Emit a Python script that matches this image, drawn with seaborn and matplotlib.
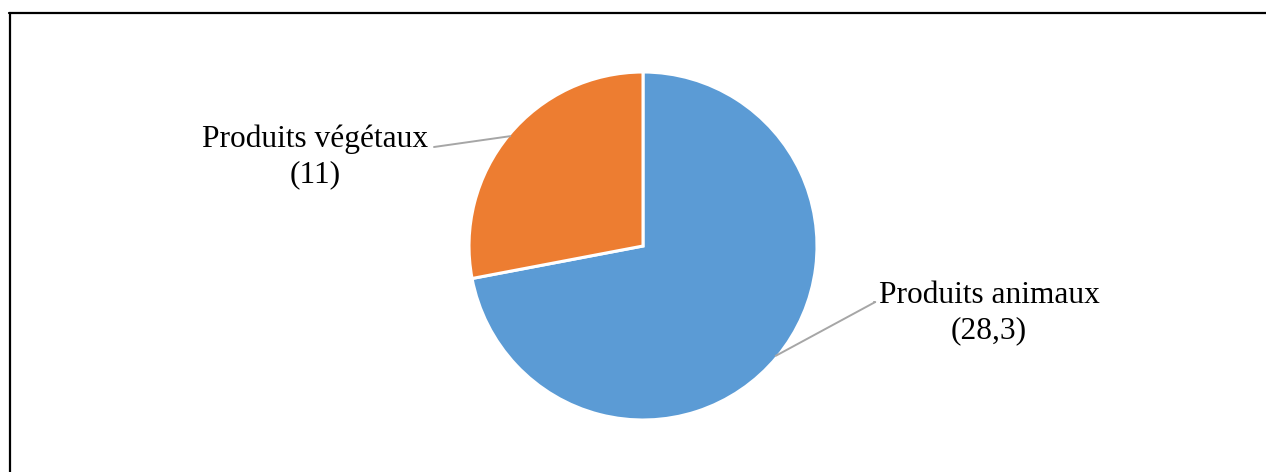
import numpy as np
import matplotlib
matplotlib.use("Agg")
import matplotlib.pyplot as plt
from matplotlib.lines import Line2D
import seaborn as sns

# Data
categories = ["Produits animaux", "Produits végétaux"]
values = [28.3, 11]
value_labels = ["28,3", "11"]

sns.set_style("white")
plt.rcParams["font.family"] = ["Liberation Serif", "DejaVu Serif"]

colors = ["#5B9BD5", "#ED7D31"]

W, H = 1266, 472
fig = plt.figure(figsize=(W / 100, H / 100), dpi=100)

# Pie axes: centre (643, 246) px, radius 174 px
cx, cy, r = 643, 246, 174
ax = fig.add_axes([(cx - r) / W, (H - cy - r) / H, 2 * r / W, 2 * r / H])
wedges, _ = ax.pie(values, colors=colors, startangle=90, counterclock=False,
                   radius=1.0,
                   wedgeprops=dict(edgecolor="white", linewidth=2.2))
ax.set_xlim(-1, 1)
ax.set_ylim(-1, 1)
ax.set_aspect("equal")
ax.axis("off")

# Label text positions (figure pixels, from top-left) and leader line endpoints
label_pos = {
    "Produits animaux": (989, 313),
    "Produits végétaux": (315, 157),
}
leader_text_end = {
    "Produits animaux": (874, 302),
    "Produits végétaux": (434, 147),
}
leader_style = {
    "Produits animaux": "angle,angleA=0,angleB=28.4,rad=0",
    "Produits végétaux": "arc3,rad=0",
}

for w, cat, vl in zip(wedges, categories, value_labels):
    mid = np.deg2rad((w.theta1 + w.theta2) / 2)
    edge = (np.cos(mid) * 0.99, np.sin(mid) * 0.99)
    tx, ty = label_pos[cat]
    fig.text(tx / W, 1 - ty / H, f"{cat}\n({vl})", ha="center", va="center",
             multialignment="center", fontsize=22.6, linespacing=1.27,
             color="#000000")
    lx, ly = leader_text_end[cat]
    ax.annotate("", xy=edge, xycoords="data",
                xytext=(lx / W, 1 - ly / H), textcoords="figure fraction",
                arrowprops=dict(arrowstyle="-", color="#A6A6A6", lw=1.4,
                                shrinkA=0, shrinkB=0,
                                connectionstyle=leader_style[cat]))

# Outer frame (top and left edges)
fig.add_artist(Line2D([9 / W, 1.0], [1 - 13 / H, 1 - 13 / H],
                      transform=fig.transFigure, color="black", lw=1.6))
fig.add_artist(Line2D([10 / W, 10 / W], [1 - 13 / H, 0],
                      transform=fig.transFigure, color="black", lw=1.6))

fig.savefig("out.png", dpi=100, facecolor="white")
